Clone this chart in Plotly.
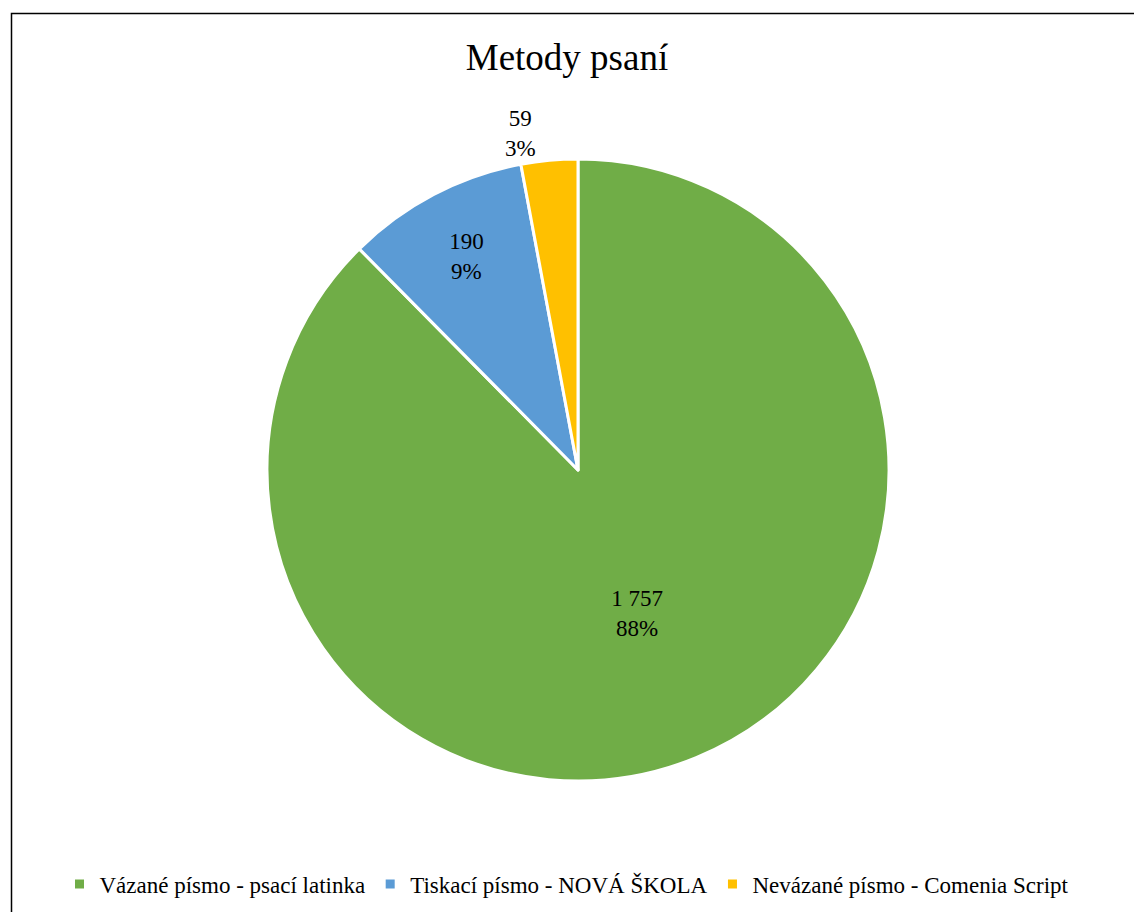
import plotly.graph_objects as go

labels = ["Vázané písmo - psací latinka", "Tiskací písmo - NOVÁ ŠKOLA", "Nevázané písmo - Comenia Script"]
values = [1757, 190, 59]
value_text = ["1 757", "190", "59"]
colors = ["#70AD47", "#5B9BD5", "#FFC000"]

SERIF = "Liberation Serif, Times New Roman, serif"
W, H = 1134, 912
fig = go.Figure(go.Pie(
    labels=labels,
    values=values,
    customdata=value_text,
    texttemplate="%{customdata}<br>%{percent:.0%}",
    textposition=["inside", "inside", "outside"],
    insidetextorientation="horizontal",
    textfont=dict(family=SERIF, size=23, color="black"),
    marker=dict(colors=colors, line=dict(color="white", width=3)),
    sort=False,
    direction="clockwise",
    rotation=0,
    hoverinfo="label+value+percent",
    domain=dict(x=[267 / W, 889 / W], y=[1 - 781 / H, 1 - 159 / H]),
))

fig.update_layout(
    width=W, height=H,
    margin=dict(l=0, r=0, t=0, b=0),
    paper_bgcolor="white",
    plot_bgcolor="white",
    title=dict(text="Metody psaní", x=0.5, xanchor="center", y=1 - 57 / H, yanchor="middle",
               font=dict(family=SERIF, size=37, color="black")),
    legend=dict(orientation="h", x=0.5, xanchor="center", y=1 - 884 / H, yanchor="middle",
                font=dict(family=SERIF, size=23, color="black"),
                itemwidth=30, traceorder="normal"),
    shapes=[dict(type="rect", xref="paper", yref="paper",
                 x0=11.5 / W, x1=1.01, y0=-0.01, y1=1 - 13.5 / H,
                 line=dict(color="black", width=1.5), fillcolor="rgba(0,0,0,0)")],
)

fig.write_html("out.html", config={"displayModeBar": False},
               post_script="document.body.style.margin='0';")
